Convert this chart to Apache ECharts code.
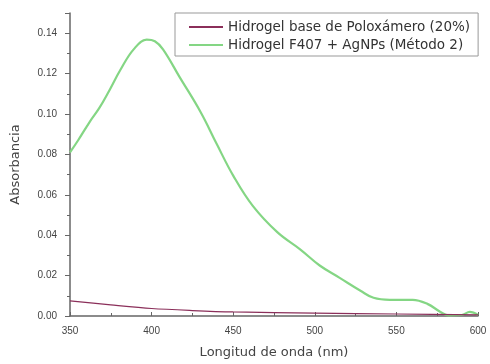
<!DOCTYPE html>
<html><head><meta charset="utf-8">
<script src="https://cdn.jsdelivr.net/npm/echarts@6/dist/echarts.min.js"></script>
<style>html,body{margin:0;padding:0;background:#fff}#c{width:490px;height:364px}</style>
</head><body><div id="c"></div>
<script>
const seriesNames = ["Hidrogel base de Poloxámero (20%)", "Hidrogel F407 + AgNPs (Método 2)"];
const baseNm  = [350, 375, 400, 425, 450, 500, 550, 600];
const baseAbs = [0.0075, 0.0055, 0.0037, 0.0027, 0.0020, 0.0014, 0.0010, 0.0006];
const agNm  = [350, 355, 362, 368, 373, 381, 389, 397, 402, 407, 417, 430, 440, 450, 462, 477, 491, 503, 515, 528, 536, 546, 560, 569, 577, 582, 590, 595, 600];
const agAbs = [0.081, 0.087, 0.096, 0.103, 0.110, 0.122, 0.132, 0.1368, 0.136, 0.132, 0.1185, 0.101, 0.085, 0.0695, 0.0545, 0.0415, 0.033, 0.025, 0.019, 0.0125, 0.009, 0.008, 0.008, 0.006, 0.002, 0.0003, 0.0005, 0.002, 0.0005];
const xTicks = [350, 400, 450, 500, 550, 600];
const yTicks = [0.00, 0.02, 0.04, 0.06, 0.08, 0.10, 0.12, 0.14];

const chart = echarts.init(document.getElementById('c'), null, {renderer: 'canvas'});
const pair = (xs, ys) => xs.map((x, i) => [x, ys[i]]);
const axisCol = '#666';
const txtCol = '#444';
chart.setOption({
  animation: false,
  backgroundColor: '#fff',
  grid: {left: 70, right: 12, top: 13, bottom: 47},
  legend: {
    orient: 'vertical', left: 175, top: 13,
    padding: [7, 8, 4, 14], itemGap: 4, itemWidth: 34, itemHeight: 2,
    icon: 'rect',
    borderColor: '#999', borderWidth: 1,
    textStyle: {color: '#333', fontSize: 13.5, fontFamily: 'DejaVu Sans'},
    data: seriesNames
  },
  xAxis: {
    type: 'value', min: xTicks[0], max: xTicks[xTicks.length - 1], interval: 50,
    name: 'Longitud de onda (nm)', nameLocation: 'middle', nameGap: 30,
    nameTextStyle: {color: txtCol, fontSize: 13, fontFamily: 'DejaVu Sans'},
    axisLine: {show: true, lineStyle: {color: axisCol, width: 1.5}},
    axisTick: {show: true, inside: true, length: 4, lineStyle: {color: axisCol}},
    minorTick: {show: true, splitNumber: 2, length: 3, lineStyle: {color: axisCol}},
    splitLine: {show: false},
    axisLabel: {color: txtCol, fontSize: 10, fontFamily: 'Liberation Sans', margin: 10,
      formatter: v => xTicks.includes(v) ? String(v) : ''}
  },
  yAxis: {
    type: 'value', min: 0, max: 0.15, interval: 0.02,
    name: 'Absorbancia', nameLocation: 'middle', nameGap: 48,
    nameTextStyle: {color: txtCol, fontSize: 13, fontFamily: 'DejaVu Sans'},
    axisLine: {show: true, lineStyle: {color: axisCol, width: 1.5}},
    axisTick: {show: true, inside: false, length: 5, lineStyle: {color: axisCol}},
    minorTick: {show: true, splitNumber: 2, length: 3, lineStyle: {color: axisCol}},
    splitLine: {show: false},
    axisLabel: {color: txtCol, fontSize: 10, fontFamily: 'Liberation Sans', margin: 13,
      showMaxLabel: false,
      formatter: v => yTicks.some(t => Math.abs(t - v) < 1e-9) ? v.toFixed(2) : ''}
  },
  series: [
    {name: seriesNames[0], type: 'line', symbol: 'none', smooth: 0.3,
     data: pair(baseNm, baseAbs), lineStyle: {color: '#8b2f5a', width: 1.2}, itemStyle: {color: '#8b2f5a'}, z: 3},
    {name: seriesNames[1], type: 'line', symbol: 'none', smooth: 0.4,
     data: pair(agNm, agAbs), lineStyle: {color: '#84d684', width: 2.2}, itemStyle: {color: '#84d684'}, z: 2}
  ]
});
</script></body></html>
